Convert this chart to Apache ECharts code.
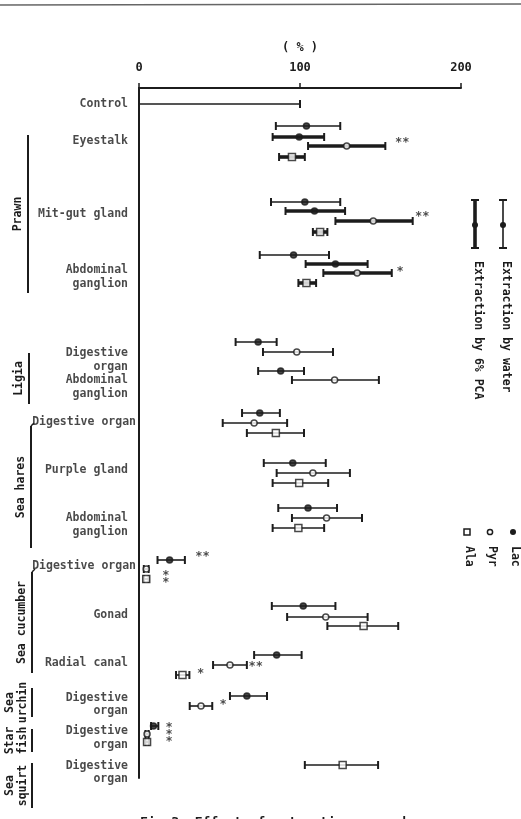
<!DOCTYPE html>
<html>
<head>
<meta charset="utf-8">
<script src="https://cdn.jsdelivr.net/npm/echarts@6/dist/echarts.min.js"></script>
<style>
html, body { margin: 0; padding: 0; background: #fff; }
#chart { width: 521px; height: 819px; }
</style>
</head>
<body>
<div id="chart"></div>
<script>
// each entry: [row, mean, low, high]  (row = slot down the y axis, values in % of control)
const control = [[1.6, 100, 0, 100]]
const lacWater = [
    [3.8, 104, 85, 125], [11.4, 103, 82, 125], [16.7, 96, 75, 118],
    [25.4, 74, 60, 85.5], [28.3, 88, 74, 102.5],
    [32.5, 75, 64, 87.5], [37.5, 95.5, 77.5, 116], [42, 105, 86.5, 123],
    [47.2, 19, 11.5, 28.5], [51.8, 102, 82.5, 122], [56.7, 85.5, 71.5, 101],
    [60.8, 67, 56.5, 79.5], [63.8, 9, 7.5, 12]
]
const lacPca = [[4.9, 99.5, 83, 115], [12.3, 109, 91, 128], [17.6, 122, 103.5, 142]]
const pyrPca = [[5.8, 129, 105, 153], [13.3, 145.5, 122, 170], [18.5, 135.5, 114.5, 157]]
const alaPca = [[6.9, 95, 87, 103], [14.4, 112.5, 108, 117], [19.5, 104, 99, 110]]
const pyrWater = [
    [26.4, 98, 77, 120.5], [29.2, 121.5, 95, 149],
    [33.5, 71.5, 52, 92], [38.5, 108, 85.5, 131], [43, 116.5, 95, 138.5],
    [48.1, 4.5, 3, 6], [52.9, 116, 92, 142], [57.7, 56.5, 46, 67],
    [61.8, 38.5, 31.5, 45.5], [64.6, 5, 4, 6]
]
const alaWater = [
    [34.5, 85, 67, 102.5], [39.5, 99.5, 83, 117.5], [44, 99, 83, 115],
    [49.1, 4.5, 3, 6], [53.8, 139.5, 117, 161], [58.7, 27, 23, 31.3],
    [65.4, 5, 4, 6], [67.7, 126.5, 103, 148.5]
]

// tissue names: [row, text]
const tissues = [
    [1.6, 'Control'], [5.3, 'Eyestalk'], [12.6, 'Mit-gut gland'], [18.9, 'Abdominal\nganglion'],
    [27.2, 'Digestive\norgan'], [29.9, 'Abdominal\nganglion'],
    [33.4, 'Digestive organ'], [38.2, 'Purple gland'], [43.7, 'Abdominal\nganglion'],
    [47.8, 'Digestive organ'], [52.7, 'Gonad'], [57.5, 'Radial canal'],
    [61.65, 'Digestive\norgan'], [65, 'Digestive\norgan'], [68.45, 'Digestive\norgan']
]
// animal groups: [name, first row, last row]
const groups = [
    ['Prawn', 4.7, 20.5], ['Ligia', 26.5, 31.6], ['Sea hares', 33.8, 46],
    ['Sea cucumber', 48.4, 58.5], ['Sea\nurchin', 60, 62.9], ['Star\nfish', 64.1, 66.4],
    ['Sea\nsquirt', 67.5, 72]
]
// significance marks: [row, x, text]
const stars = [
    [5.5, 159, '**'], [12.9, 171.5, '**'], [18.4, 160, '*'],
    [46.9, 35, '**'], [49.1, 14.5, '*\n*'], [57.9, 68, '**'],
    [58.6, 36, '*'], [61.7, 50, '*'], [64.7, 16.5, '*\n*\n*']
]

const FONT = 'DejaVu Sans Mono'
const INK = '#1c1c1c'

const chart = echarts.init(document.getElementById('chart'))

// horizontal error bar, caps on both ends (or only the right one)
const errorBar = (width, leftCap) => (params, api) => {
    const row = api.value(0)
    const a = api.coord([api.value(2), row])
    const b = api.coord([api.value(3), row])
    const h = 4
    const line = { stroke: INK, lineWidth: width }
    const cap = { stroke: INK, lineWidth: 2 }
    const kids = [
        { type: 'line', shape: { x1: a[0], y1: a[1], x2: b[0], y2: b[1] }, style: line },
        { type: 'line', shape: { x1: b[0], y1: b[1] - h, x2: b[0], y2: b[1] + h }, style: cap }
    ]
    if (leftCap) kids.push({ type: 'line', shape: { x1: a[0], y1: a[1] - h, x2: a[0], y2: a[1] + h }, style: cap })
    return { type: 'group', children: kids }
}

const barSeries = (data, width, leftCap = true) => ({
    type: 'custom',
    renderItem: errorBar(width, leftCap),
    encode: { x: [1, 2, 3], y: 0 },
    data,
    z: 2
})

const markSeries = (data, symbol, fill, size) => ({
    type: 'scatter',
    symbol,
    symbolSize: size,
    itemStyle: { color: fill, borderColor: INK, borderWidth: 1.5 },
    data: data.map(d => [d[1], d[0]]),
    z: 3
})

const option = {
    animation: false,
    backgroundColor: '#fff',
    grid: { left: 139, right: 60, top: 88, bottom: 41 },
    xAxis: {
        type: 'value',
        position: 'top',
        min: 0, max: 200, interval: 100,
        name: '( % )',
        nameLocation: 'middle',
        nameGap: 34,
        nameTextStyle: { fontFamily: FONT, fontSize: 12, fontWeight: 'bold', color: INK },
        axisLine: { show: true, lineStyle: { color: INK, width: 2 } },
        axisTick: { show: true, length: 5, lineStyle: { color: INK, width: 1.5 } },
        axisLabel: { margin: 14, fontFamily: FONT, fontSize: 12, fontWeight: 'bold', color: INK },
        splitLine: { show: false }
    },
    yAxis: {
        type: 'value',
        inverse: true,
        min: 0, max: 69,
        axisLine: { show: true, onZero: false, lineStyle: { color: INK, width: 2 } },
        axisTick: { show: false },
        axisLabel: { show: false },
        splitLine: { show: false }
    },
    series: [
        barSeries(control, 1.5, false),
        barSeries(lacWater, 1.6),
        barSeries(pyrWater, 1.6),
        barSeries(alaWater, 1.6),
        barSeries(lacPca, 3.6),
        barSeries(pyrPca, 3.6),
        barSeries(alaPca, 3.6),
        markSeries(lacWater.concat(lacPca), 'circle', INK, 6),
        markSeries(pyrWater.concat(pyrPca), 'circle', '#fff', 6),
        markSeries(alaWater.concat(alaPca), 'rect', '#fff', 7),
        {
            // tissue names left of the axis
            type: 'scatter',
            symbolSize: 0,
            silent: true,
            data: tissues.map(t => ({
                value: [0, t[0]],
                name: t[1],
                label: { distance: t[1] === 'Digestive organ' ? 3 : 11 }
            })),
            label: {
                show: true, position: 'left', align: 'right',
                formatter: p => p.name,
                fontFamily: FONT, fontSize: 11.5, fontWeight: 'bold', color: INK, lineHeight: 13.5
            }
        },
        {
            // significance asterisks
            type: 'scatter',
            symbolSize: 0,
            silent: true,
            data: stars.map(s => ({ value: [s[1], s[0]], name: s[2] })),
            label: {
                show: true, position: 'inside', align: 'left',
                formatter: p => p.name,
                fontFamily: FONT, fontSize: 12, fontWeight: 'bold', color: INK, lineHeight: 7
            }
        }
    ]
}
chart.setOption(option)

// annotations drawn in pixels: group brackets, rotated group names, legends
const px = row => chart.convertToPixel({ gridIndex: 0 }, [0, row])[1]
const bracketX = [28, 29, 31, 32, 32, 32, 32]
const txt = { fontFamily: FONT, fontSize: 11.5, fontWeight: 'bold', fill: INK, align: 'center', verticalAlign: 'middle', lineHeight: 13 }
const graphic = [
    { type: 'line', shape: { x1: 0, y1: 5, x2: 521, y2: 4 }, style: { stroke: '#666', lineWidth: 1.5 } }
]
groups.forEach((g, i) => {
    const x = bracketX[i]
    const y1 = px(g[1]), y2 = px(g[2])
    const twoLines = g[0].includes('\n')
    graphic.push({ type: 'line', shape: { x1: x, y1, x2: x, y2 }, style: { stroke: INK, lineWidth: 2 } })
    graphic.push({
        type: 'text', x: twoLines ? x - 15 : x - 10, y: (y1 + y2) / 2, rotation: Math.PI / 2,
        style: Object.assign({ text: g[0] }, txt)
    })
})
// little hooks at the top of two brackets
graphic.push({ type: 'line', shape: { x1: 31, y1: px(33.8), x2: 34, y2: px(33.5) }, style: { stroke: INK, lineWidth: 1.5 } })
graphic.push({ type: 'line', shape: { x1: 32, y1: px(48.4), x2: 35, y2: px(48.1) }, style: { stroke: INK, lineWidth: 1.5 } })

// extraction legend (vertical error bars)
const vbar = (x, w) => [
    { type: 'line', shape: { x1: x, y1: 200, x2: x, y2: 248 }, style: { stroke: INK, lineWidth: w } },
    { type: 'line', shape: { x1: x - 4, y1: 200, x2: x + 4, y2: 200 }, style: { stroke: INK, lineWidth: 2 } },
    { type: 'line', shape: { x1: x - 4, y1: 248, x2: x + 4, y2: 248 }, style: { stroke: INK, lineWidth: 2 } },
    { type: 'circle', shape: { cx: x, cy: 225, r: 3 }, style: { fill: INK } }
]
graphic.push(...vbar(475, 3.6), ...vbar(503, 1.6))
const rotTxt = (x, y, text) => ({
    type: 'text', x, y, rotation: -Math.PI / 2,
    style: Object.assign({}, txt, { text, align: 'left' })
})
graphic.push(rotTxt(506, 261, 'Extraction by water'), rotTxt(478, 261, 'Extraction by 6% PCA'))

// metabolite legend
graphic.push(
    { type: 'circle', shape: { cx: 513, cy: 532, r: 3 }, style: { fill: INK } },
    { type: 'circle', shape: { cx: 490, cy: 532, r: 2.6 }, style: { fill: '#fff', stroke: INK, lineWidth: 1.5 } },
    { type: 'rect', shape: { x: 464, y: 529, width: 6, height: 6 }, style: { fill: '#fff', stroke: INK, lineWidth: 1.5 } },
    rotTxt(515, 546, 'Lac'), rotTxt(492, 546, 'Pyr'), rotTxt(469, 546, 'Ala')
)

// caption, almost entirely below the page edge
graphic.push({
    type: 'text', x: 140, y: 816,
    style: { text: 'Fig.3  Effect of extraction procedures', fontFamily: FONT, fontSize: 13, fontWeight: 'bold', fill: INK }
})

chart.setOption({ graphic })
</script>
</body>
</html>
